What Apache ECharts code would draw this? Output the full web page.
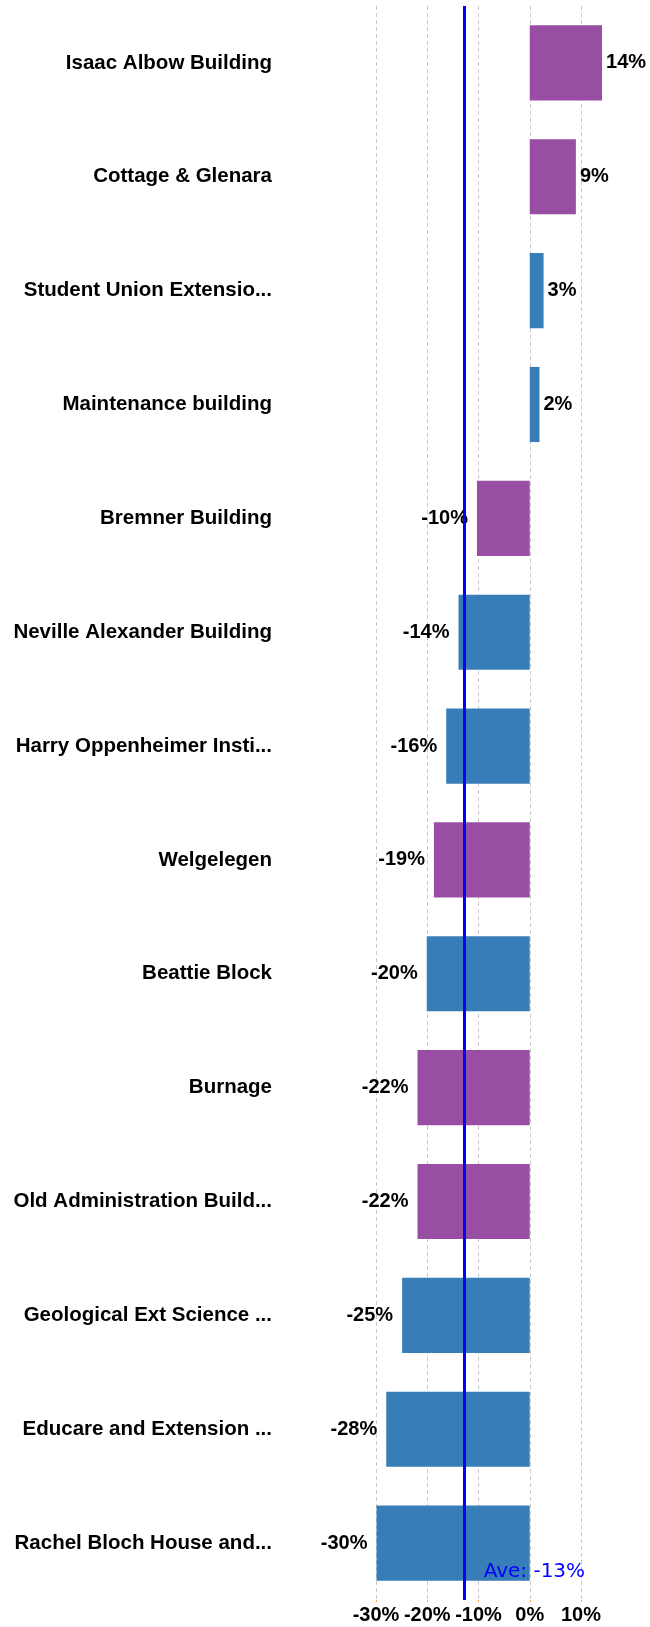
<!DOCTYPE html>
<html>
<head>
<meta charset="utf-8">
<script src="https://cdn.jsdelivr.net/npm/echarts@6/dist/echarts.min.js"></script>
<style>
html,body{margin:0;padding:0;background:#fff;}
#chart{width:650px;height:1627px;}
</style>
</head>
<body>
<div id="chart"></div>
<script>
const categories = [
  'Isaac Albow Building',
  'Cottage & Glenara',
  'Student Union Extensio...',
  'Maintenance building',
  'Bremner Building',
  'Neville Alexander Building',
  'Harry Oppenheimer Insti...',
  'Welgelegen',
  'Beattie Block',
  'Burnage',
  'Old Administration Build...',
  'Geological Ext Science ...',
  'Educare and Extension ...',
  'Rachel Bloch House and...'
];
const values = [14.1, 9.0, 2.7, 1.9, -10.3, -13.9, -16.3, -18.7, -20.1, -21.9, -21.9, -24.9, -28.0, -29.9];
const groups = ['P', 'P', 'B', 'B', 'P', 'B', 'B', 'P', 'B', 'P', 'P', 'B', 'B', 'B'];
const groupColors = { P: '#984EA3', B: '#377EB8' };
const average = -12.7;
const averageLabel = 'Ave: -13%';
const xTicks = { min: -30, max: 10, interval: 10 };

const FONT = 'Liberation Sans';

const barData = values.map((v, i) => ({
  value: v,
  itemStyle: { color: groupColors[groups[i]] },
  label: { position: v >= 0 ? 'right' : 'left', distance: v >= 0 ? 4 : 9 }
}));

const chart = echarts.init(document.getElementById('chart'));
chart.setOption({
  animation: false,
  grid: { left: 376, right: 69, top: 6, bottom: 27, containLabel: false },
  xAxis: {
    type: 'value',
    min: xTicks.min, max: xTicks.max, interval: xTicks.interval,
    axisLine: { show: false },
    axisTick: { show: true, length: 2, lineStyle: { color: '#f5a050' } },
    splitLine: { show: true, lineStyle: { color: '#c8c8c8', type: [4, 3], width: 1 } },
    axisLabel: {
      margin: 5, color: '#000', fontFamily: FONT, fontWeight: 'bold', fontSize: 20,
      formatter: v => v + '%'
    }
  },
  yAxis: {
    type: 'category',
    data: categories,
    inverse: true,
    axisLine: { show: false },
    axisTick: { show: false },
    splitLine: { show: false },
    axisLabel: { margin: 104, color: '#000', fontFamily: FONT, fontWeight: 'bold', fontSize: 20.5 }
  },
  series: [{
    type: 'bar',
    data: barData,
    barWidth: '66%',
    clip: false,
    label: {
      show: true, color: '#000', fontFamily: FONT, fontWeight: 'bold', fontSize: 20,
      formatter: p => Math.round(p.value) + '%'
    },
    markLine: {
      silent: true,
      symbol: ['none', 'none'],
      lineStyle: { color: '#0000ff', width: 3, type: 'solid' },
      label: { show: false },
      data: [{ xAxis: average }]
    },
    markPoint: {
      silent: true,
      symbol: 'circle',
      symbolSize: 0,
      data: [{ coord: [average, categories[categories.length - 1]] }],
      label: {
        show: true, position: 'right', distance: 19, offset: [0, 29],
        color: '#0000ff', fontFamily: 'DejaVu Sans', fontSize: 20,
        formatter: () => averageLabel
      }
    }
  }]
});
</script>
</body>
</html>
